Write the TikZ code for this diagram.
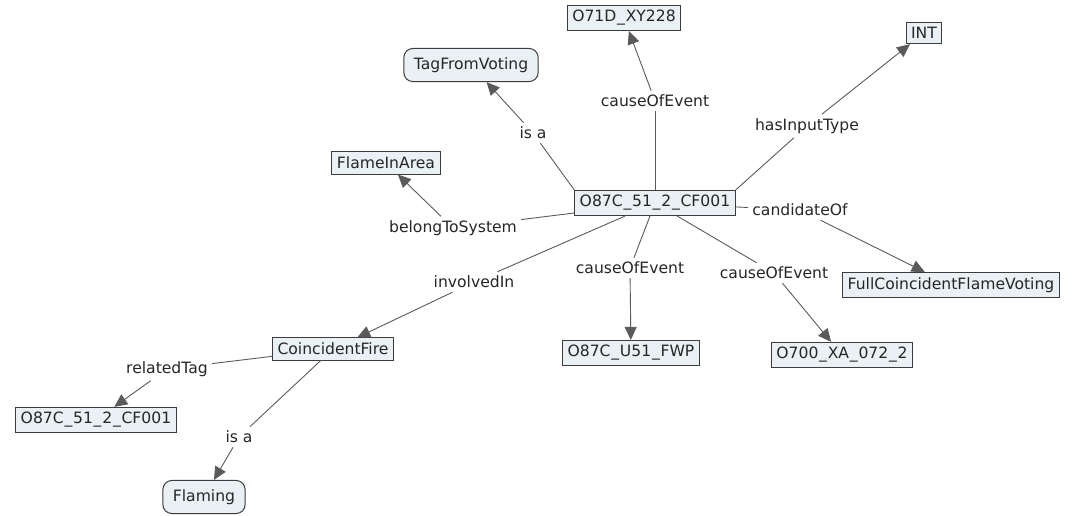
\documentclass[tikz,border=0pt]{standalone}
\usepackage{fontspec}
\setmainfont{DejaVu Sans}
\usepackage{tikz}
\usetikzlibrary{positioning, shapes, arrows.meta}

\definecolor{conceptfill}{HTML}{E9F1F5}
\definecolor{edgegray}{HTML}{5A5A5A}
\definecolor{bordergray}{HTML}{3C3C3C}

% wider underscore for the tag names
\newcommand{\uscore}{\makebox[0.6em]{\_}}

\begin{document}
\begin{tikzpicture}[
    x=1pt, y=-1pt,
    every node/.style={font=\fontsize{15.6}{18}\selectfont, text=black!85},
    concept/.style={rectangle, draw=bordergray, fill=conceptfill, line width=1pt, inner xsep=5pt, inner ysep=5pt},
    classnode/.style={concept, rounded corners=9pt, inner xsep=10pt, inner ysep=9pt},
    linklabel/.style={inner sep=4pt, fill=white},
    link/.style={draw=edgegray, line width=0.9pt},
    arrowlink/.style={link, -{Triangle[length=13pt, width=12pt]}}
]
\useasboundingbox (0,0) rectangle (1082,515);

% Central instance
\node[concept] (cf) at (655,203) {O87C\uscore51\uscore2\uscore CF001};

% Upper concepts
\node[concept] (xy) at (624,18) {O71D\uscore XY228};
\node[classnode] (tag) at (471,65) {TagFromVoting};
\node[concept] (int) at (924,33) {INT};
\node[concept] (flame) at (386,163) {FlameInArea};

% Lower concepts
\node[concept] (full) at (951,285) {FullCoincidentFlameVoting};
\node[concept] (fwp) at (631,353) {O87C\uscore U51\uscore FWP};
\node[concept] (xa) at (842,355) {O700\uscore XA\uscore 072\uscore 2};
\node[concept] (fire) at (333,349) {CoincidentFire};
\node[concept] (cfb) at (96,420) {O87C\uscore51\uscore2\uscore CF001};
\node[classnode] (flaming) at (204,497) {Flaming};

% Link labels
\node[linklabel] (l1) at (655,101) {causeOfEvent};
\node[linklabel] (l2) at (533,133) {is a};
\node[linklabel] (l3) at (807,126) {hasInputType};
\node[linklabel] (l4) at (453,228) {belongToSystem};
\node[linklabel] (l5) at (800,210) {candidateOf};
\node[linklabel] (l6) at (474,282) {involvedIn};
\node[linklabel] (l7) at (630,268) {causeOfEvent};
\node[linklabel] (l8) at (774,273) {causeOfEvent};
\node[linklabel] (l9) at (167,369) {relatedTag};
\node[linklabel] (l10) at (239,437) {is a};

% Edges
\draw[link] (cf.north) -- (l1); \draw[arrowlink] (l1) -- (xy);
\draw[link] (cf.north west) -- (l2); \draw[arrowlink] (l2) -- (tag);
\draw[link] (cf.north east) -- (l3); \draw[arrowlink] (l3) -- (int);
\draw[link] (cf) -- (l4); \draw[arrowlink] (l4) -- (flame);
\draw[link] (cf) -- (l5); \draw[arrowlink] (l5) -- (full);
\draw[link] (cf) -- (l6); \draw[arrowlink] (l6) -- (fire);
\draw[link] (cf) -- (l7); \draw[arrowlink] (l7) -- (fwp);
\draw[link] (cf) -- (l8); \draw[arrowlink] (l8) -- (xa);
\draw[link] (fire) -- (l9); \draw[arrowlink] (l9) -- (cfb);
\draw[link] (fire) -- (l10); \draw[arrowlink] (l10) -- (flaming);

\end{tikzpicture}
\end{document}
